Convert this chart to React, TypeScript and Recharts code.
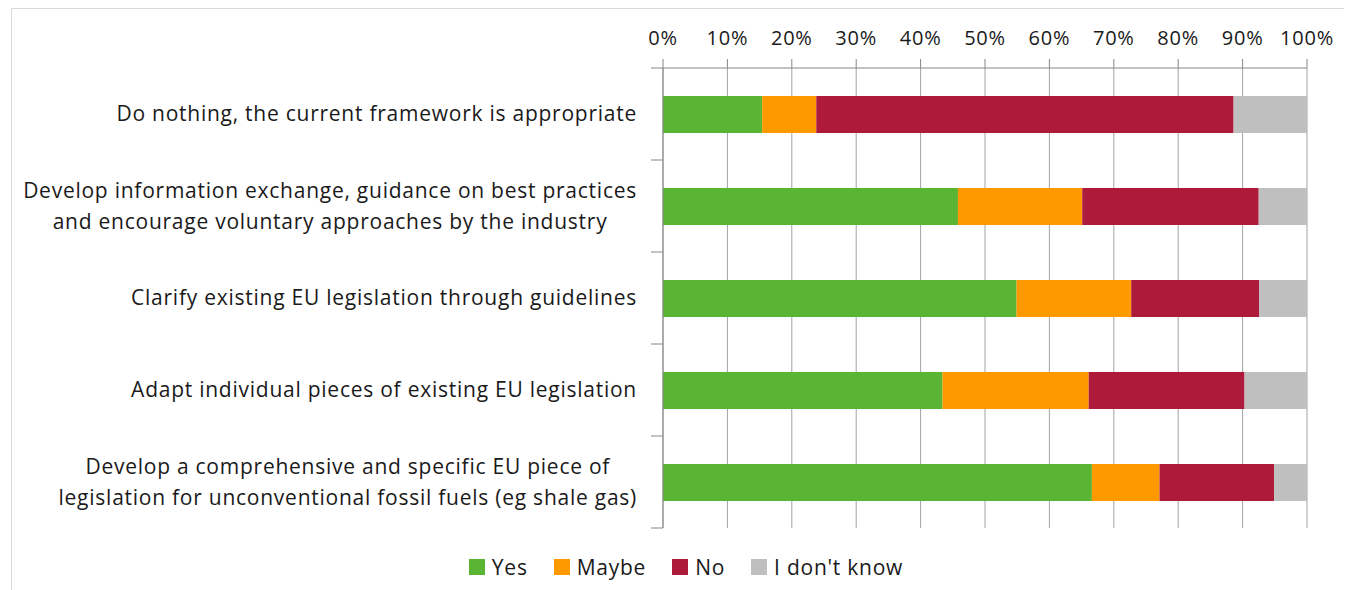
import { Bar, BarChart, CartesianGrid, Legend, XAxis, YAxis } from 'recharts'

const categories = [
  'Do nothing, the current framework is appropriate',
  'Develop information exchange, guidance on best practices\nand encourage voluntary approaches by the industry',
  'Clarify existing EU legislation through guidelines',
  'Adapt individual pieces of existing EU legislation',
  'Develop a comprehensive and specific EU piece of\nlegislation for unconventional fossil fuels (eg shale gas)',
]
const seriesNames = ['Yes', 'Maybe', 'No', "I don't know"]
const yesValues = [15.4, 45.8, 54.9, 43.4, 66.6]
const maybeValues = [8.4, 19.3, 17.8, 22.7, 10.5]
const noValues = [64.8, 27.4, 19.9, 24.2, 17.8]
const dontKnowValues = [11.4, 7.5, 7.4, 9.7, 5.1]
const xTicks = [0, 10, 20, 30, 40, 50, 60, 70, 80, 90, 100]

const FONT = '"Open Sans", Lato, sans-serif'
const LABEL_SIZE = 21
const LETTER_SPACING = 0.75
const TICK_SIZE = 12
const TICK_MARGIN = 14
const AXIS_GRAY = '#868686'

const data = categories.map((name, i) => ({
  name,
  yes: yesValues[i],
  maybe: maybeValues[i],
  no: noValues[i],
  dk: dontKnowValues[i],
}))

let ctx: CanvasRenderingContext2D | null = null
function textWidth(s: string) {
  if (!ctx) ctx = document.createElement('canvas').getContext('2d')
  if (!ctx) return s.length * 10
  ctx.font = `${LABEL_SIZE}px "Open Sans"`
  return ctx.measureText(s).width + s.length * LETTER_SPACING
}

function CategoryTick(props: any) {
  const { x, y, payload, index, visibleTicksCount } = props
  const lines = String(payload.value).split('\n')
  const w = Math.max(...lines.map(textWidth))
  const cx = x - w / 2
  const half = payload.offset ?? 0
  const lx1 = x + TICK_MARGIN
  const lx2 = x + TICK_MARGIN + TICK_SIZE
  const gap = 31
  return (
    <g>
      <line x1={lx1} x2={lx2} y1={y - half} y2={y - half} stroke={AXIS_GRAY} />
      {index === visibleTicksCount - 1 && (
        <line x1={lx1} x2={lx2} y1={y + half} y2={y + half} stroke={AXIS_GRAY} />
      )}
      {lines.map((l, i) => (
        <text
          key={i}
          x={cx}
          y={y + (i - (lines.length - 1) / 2) * gap}
          dy="0.35em"
          textAnchor="middle"
          fill="#1a1a1a"
          fontSize={LABEL_SIZE}
          fontFamily={FONT}
          letterSpacing={LETTER_SPACING}
        >
          {l}
        </text>
      ))}
    </g>
  )
}

function LegendContent(props: any) {
  const items = [...(props.payload ?? [])].sort(
    (a: any, b: any) => seriesNames.indexOf(a.value) - seriesNames.indexOf(b.value),
  )
  return (
    <div
      style={{
        display: 'flex',
        justifyContent: 'center',
        alignItems: 'center',
        marginTop: 27,
        height: 24,
        paddingLeft: 38,
        fontFamily: FONT,
        fontSize: LABEL_SIZE,
        letterSpacing: LETTER_SPACING,
        color: '#1a1a1a',
      }}
    >
      {items.map((it: any) => (
        <div key={it.value} style={{ display: 'flex', alignItems: 'center', marginRight: 26 }}>
          <span style={{ width: 16, height: 16, background: it.color, marginRight: 7, display: 'inline-block' }} />
          <span>{it.value}</span>
        </div>
      ))}
    </div>
  )
}

export default function App() {
  return (
    <div style={{ position: 'relative', width: 1344, height: 582 }}>
      <div
        style={{
          position: 'absolute',
          left: 3,
          top: 0,
          right: -20,
          bottom: -20,
          borderTop: '1px solid #d9d9d9',
          borderLeft: '1px solid #d9d9d9',
        }}
      />
      <div style={{ position: 'absolute', left: 0, top: 0 }}>
        <BarChart
          width={1344}
          height={582}
          data={data}
          layout="vertical"
          margin={{ top: 20, right: 45, bottom: 0, left: 0 }}
        >
          <CartesianGrid horizontal={false} stroke="#a3a3a3" />
          <XAxis
            type="number"
            orientation="top"
            domain={[0, 100]}
            ticks={xTicks}
            tickFormatter={(v) => `${v}%`}
            height={40}
            tickSize={9}
            tickMargin={14}
            stroke={AXIS_GRAY}
            tick={{ fill: '#1a1a1a', fontSize: 20, fontFamily: FONT, letterSpacing: LETTER_SPACING }}
            interval={0}
          />
          <YAxis
            type="category"
            dataKey="name"
            width={655}
            tickSize={TICK_SIZE}
            tickMargin={TICK_MARGIN}
            tickLine={false}
            stroke={AXIS_GRAY}
            tick={<CategoryTick />}
            interval={0}
          />
          <Legend
            verticalAlign="bottom"
            height={62}
            wrapperStyle={{ left: 0, width: 1344 }}
            content={<LegendContent />}
          />
          <Bar dataKey="yes" name={seriesNames[0]} stackId="a" fill="#5ab535" barSize={37} isAnimationActive={false} />
          <Bar dataKey="maybe" name={seriesNames[1]} stackId="a" fill="#ff9900" barSize={37} isAnimationActive={false} />
          <Bar dataKey="no" name={seriesNames[2]} stackId="a" fill="#ad1a3a" barSize={37} isAnimationActive={false} />
          <Bar dataKey="dk" name={seriesNames[3]} stackId="a" fill="#bfbfbf" barSize={37} isAnimationActive={false} />
        </BarChart>
      </div>
    </div>
  )
}
